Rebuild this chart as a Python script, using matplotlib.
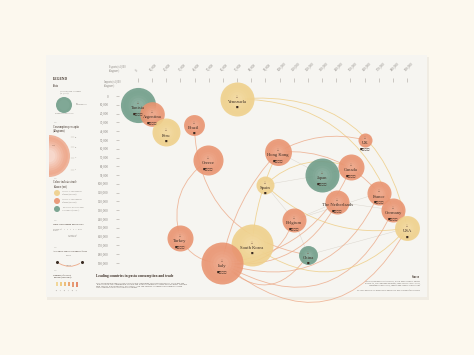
import numpy as np
import matplotlib
matplotlib.use('Agg')
import matplotlib.pyplot as plt
from matplotlib.patches import Rectangle, FancyArrowPatch, Wedge, Circle
from matplotlib.colors import to_rgb

# --- data -------------------------------------------------------------
countries = ['Tunisia', 'Argentina', 'Peru', 'Brazil', 'Venezuela', 'Greece',
             'Hong Kong', 'Spain', 'UK', 'Japan', 'Canada', 'The Netherlands',
             'France', 'Germany', 'USA', 'Belgium', 'China', 'Turkey',
             'South Korea', 'Italy']
exports = [0, 9900, 19800, 39600, 70000, 49500, 98900, 89800, 160400, 130000,
           150500, 140600, 170300, 180200, 190100, 110200, 120100, 29700,
           80600, 59400]
imports = [10200, 20500, 41000, 33000, 3400, 72800, 63700, 101000, 50000,
           89900, 80800, 120600, 110400, 129700, 150200, 141000, 180900,
           161500, 169500, 190000]
consumption = [17.5, 8.6, 11.1, 6.2, 16.4, 12.8, 10.3, 4.6, 2.8, 16.4, 9.6,
               8.2, 8.2, 8.2, 8.8, 8.2, 5.1, 9.6, 25.0, 25.0]
balance = ['producer', 'importer', 'exporter', 'importer', 'exporter',
           'importer', 'importer', 'exporter', 'importer', 'producer',
           'importer', 'importer', 'importer', 'importer', 'exporter',
           'importer', 'producer', 'importer', 'exporter', 'importer']
partners = [4, 4, 1, 1, 1, 4, 4, 1, 4, 4, 4, 4, 4, 4, 1, 4, 1, 4, 1, 4]

export_ticks = [0, 10000, 20000, 30000, 40000, 50000, 60000, 70000, 80000,
                90000, 100000, 110000, 120000, 130000, 140000, 150000,
                160000, 170000, 180000, 190000]
import_ticks = [0, 10000, 20000, 30000, 40000, 50000, 60000, 70000, 80000,
                90000, 100000, 110000, 120000, 130000, 140000, 150000,
                160000, 170000, 180000, 190000]

flows = [('Italy', 'USA', 0.6), ('Italy', 'Germany', 0.55),
         ('Italy', 'France', 0.45), ('Italy', 'China', 0.6),
         ('Italy', 'Belgium', 0.4), ('Italy', 'Canada', 0.3),
         ('Italy', 'Hong Kong', -0.15), ('Italy', 'The Netherlands', 0.35),
         ('Turkey', 'Italy', 0.3), ('South Korea', 'Hong Kong', -0.1),
         ('South Korea', 'USA', 0.45),
         ('Venezuela', 'USA', -0.45), ('Venezuela', 'Germany', -0.35),
         ('Spain', 'Canada', -0.3), ('Spain', 'USA', 0.25),
         ('Hong Kong', 'UK', -0.2), ('Hong Kong', 'France', -0.25),
         ('Greece', 'Turkey', 0.35), ('Brazil', 'China', 0.4)]
links = [('Japan', 'The Netherlands'), ('Belgium', 'China'),
         ('Spain', 'Belgium'), ('Belgium', 'France'),
         ('The Netherlands', 'Germany'), ('Japan', 'Canada'),
         ('Hong Kong', 'Japan'), ('Belgium', 'The Netherlands'),
         ('China', 'USA'), ('Spain', 'Japan')]

palette = {'exporter': '#efd08a', 'importer': '#e9936f', 'producer': '#6f9c88'}
flow_colors = {'exporter': '#eecb80', 'importer': '#eca886', 'producer': '#c4beb2'}

serif = ['Liberation Serif', 'DejaVu Serif']
ink = '#3b2d24'
grey = '#8a8580'


def lighten(c, f):
    r, g, b = to_rgb(c)
    return (r + (1 - r) * f, g + (1 - g) * f, b + (1 - b) * f)


fig = plt.figure(figsize=(4.74, 3.55), dpi=100, facecolor='#fcf8ee')

# background canvas in pixel units
bg = fig.add_axes([0, 0, 1, 1])
bg.set_xlim(0, 474)
bg.set_ylim(355, 0)
bg.axis('off')
bg.add_patch(Rectangle((47, 57), 382, 243, fc='#ece8df', ec='none', alpha=0.7))
bg.add_patch(Rectangle((46, 55), 381, 242, fc='#f6f5f1', ec='none'))

# --- main chart ---------------------------------------------------------
ax = fig.add_axes([138 / 474, 1 - 263 / 355, 269 / 474, 167 / 355])
ax.set_xlim(0, 190000)
ax.set_ylim(190000, 0)
ax.patch.set_alpha(0)
for s in ax.spines.values():
    s.set_color('none')
ax.spines['top'].set_position(('outward', 10))
ax.spines['left'].set_position(('outward', 14))
ax.xaxis.tick_top()
ax.set_xticks(export_ticks)
ax.set_xticklabels([f'{v:,}' for v in export_ticks], rotation=45, ha='left',
                   va='bottom', rotation_mode='anchor', fontsize=2.3,
                   color=grey, family=serif)
ax.set_yticks(import_ticks)
ax.set_yticklabels([f'{v:,}' for v in import_ticks], fontsize=2.3,
                   color=grey, family=serif)
ax.tick_params(axis='x', length=3, width=0.4, color='#a9a49e', pad=4)
ax.tick_params(axis='y', length=2.2, width=0.4, color='#a9a49e', pad=5)

pos = {c: (x, y) for c, x, y in zip(countries, exports, imports)}
grp = dict(zip(countries, balance))

# thin grey network lines
for a, b in links:
    ax.plot([pos[a][0], pos[b][0]], [pos[a][1], pos[b][1]], color='#dcd7cf',
            lw=0.35, zorder=1, clip_on=False)

# trade arcs
for a, b, rad in flows:
    ax.add_patch(FancyArrowPatch(pos[a], pos[b], arrowstyle='-',
                                 connectionstyle=f'arc3,rad={rad}',
                                 color=flow_colors[grp[a]], lw=0.6, alpha=0.8,
                                 zorder=2, clip_on=False, shrinkA=0, shrinkB=0))

# bubbles with soft radial shading
radius_px = 4.2 * np.sqrt(np.array(consumption))
for i, c in enumerate(countries):
    base = palette[balance[i]]
    d_pt = 2 * radius_px[i] * 0.72
    ax.scatter(exports[i], imports[i], s=d_pt ** 2, color=base, alpha=0.88,
               lw=0, zorder=3, clip_on=False)
    for k in range(1, 6):
        f = 1 - 0.14 * k
        ax.scatter(exports[i], imports[i], s=(d_pt * f) ** 2,
                   color=lighten(base, 0.06 * k), alpha=0.35, lw=0, zorder=3,
                   clip_on=False)
    ax.annotate('\u25b3', (exports[i], imports[i]), xytext=(0, 2.5),
                textcoords='offset points', ha='center', va='center',
                fontsize=1.8, color='#7a5a48', family='DejaVu Sans', zorder=4)
    ax.annotate(c, (exports[i], imports[i]), xytext=(0, -2.5),
                textcoords='offset points', ha='center', va='center',
                fontsize=3.3, color=ink, family=serif, zorder=4)
    marks = '\u25a0' + ('\u25a1' * 3 if partners[i] > 1 else '')
    ax.annotate(marks, (exports[i], imports[i]), xytext=(0, -6),
                textcoords='offset points', ha='center', va='center',
                fontsize=2.0, color='#3a2a22', family='DejaVu Sans', zorder=4)

# --- header of axes -----------------------------------------------------
bg.text(109, 69, 'Exports (x1,000\nkilograms)', fontsize=1.8, color=grey,
        family=serif, va='center', linespacing=1.1)
bg.text(104, 84, 'Imports (x1,000\nkilograms)', fontsize=1.8, color=grey,
        family=serif, va='center', linespacing=1.1)

# --- legend column --------------------------------------------------------
def ltxt(x, y, s, size=1.9, weight='normal', color=ink, ha='left'):
    bg.text(x, y, s, fontsize=size, color=color, family=serif, va='center',
            ha=ha, fontweight=weight, linespacing=1.1)


ltxt(53, 79, 'LEGEND', 2.6, 'bold')
ltxt(53, 86, 'Pasta', 2.0)
ltxt(60, 93, 'Consumption in tonnes\n(x 1,000)', 1.6, color=grey)
bg.add_patch(Circle((64, 105), 8, fc=palette['producer'], ec='none', alpha=0.9))
bg.add_patch(Circle((64, 105), 5.5, fc=lighten(palette['producer'], 0.15),
                    ec='none', alpha=0.5))
ltxt(76, 104, 'Net\nconsumption', 1.5, color=grey)
ltxt(64, 114, 'Production and trade', 1.5, color=grey, ha='center')
ltxt(53, 122, '\u2014', 1.8, color=grey)
ltxt(53, 129, 'Consumption per capita\n(kilograms)', 1.9)
base = '#ec9f80'
for k in range(8):
    bg.add_patch(Wedge((49, 156), 21 * (1 - 0.1 * k), -90, 90,
                       fc=lighten(base, 0.09 * k), ec='none', alpha=0.75))
for yy, lab in [(137, '35'), (147, '25'), (158, '15'), (170, '5')]:
    bg.plot([71, 74], [yy, yy], color='#b8b2aa', lw=0.3)
    ltxt(75, yy, lab, 1.6, color=grey)
ltxt(52, 146, 'Italy', 1.5, color='#7a5a48')
ltxt(53, 178, '\u2014', 1.8, color=grey)
ltxt(53, 184, 'Colour indicates trade\nbalance (net)', 1.9)
for yy, key, lab in [(193, 'exporter', 'Country is a net exporter\nof pasta (per year)'),
                     (201, 'importer', 'Country is a net importer\nof pasta (per year)'),
                     (209, 'producer', 'The country produces what\nit consumes (balance)')]:
    bg.add_patch(Circle((57, yy), 3, fc=palette[key], ec='none', alpha=0.9))
    ltxt(62, yy, lab, 1.45, color=grey)
ltxt(53, 220, '\u2014', 1.8, color=grey)
ltxt(53, 224, 'Lines show trading partnerships', 1.7)
ltxt(53, 230, 'Number of\npartners', 1.4, color=grey)
ltxt(64, 230, '1    2    3    4  \u2014  more', 1.4, color=grey)
ltxt(68, 236, 'Strength of\nrelationship', 1.4, color=grey)
ltxt(53, 247, '\u2014', 1.8, color=grey)
ltxt(53, 251, 'Arcs show export and import flows', 1.7)
bg.add_patch(FancyArrowPatch((57, 262), (82, 262), arrowstyle='-',
                             connectionstyle='arc3,rad=0.35',
                             color=flow_colors['importer'], lw=0.6))
bg.plot([57, 82], [262, 262], 'o', ms=1.2, color=ink)
ltxt(69, 255, 'Exports', 1.4, color=grey, ha='center')
ltxt(69, 265, 'Imports', 1.4, color=grey, ha='center')
ltxt(53, 270, '\u2014', 1.8, color=grey)
ltxt(53, 276, 'Number of trading\npartners (countries)', 1.7)
bar_cols = ['#f1d79a', '#efcc86', '#edbd7b', '#eaa977', '#e79a72', '#e48c6d']
for j, bc in enumerate(bar_cols):
    bg.add_patch(Rectangle((56 + j * 4, 282), 1.6, 5 - 0.3 * (5 - j), fc=bc,
                           ec='none'))
    bg.text(56.8 + j * 4, 290, str(j + 1) + '0', fontsize=1.3, color=grey,
            family=serif, rotation=45, ha='center', va='center')

# --- title and notes ------------------------------------------------------
bg.text(96, 276, 'Leading countries in pasta consumption and trade',
        fontsize=2.6, fontweight='bold', color=ink, family=serif, va='center')
bg.text(96, 285.5,
        'This visualization displays the leading pasta consuming countries worldwide. Their size and\n'
        'position show the consumption of pasta and which countries they trade with the most. Whether\n'
        'each country is a net importer or exporter, you can observe the main relationships between\n'
        'the producers and the consuming countries.',
        fontsize=1.7, color='#6a625c', family=serif, va='center', linespacing=1.15)
bg.text(420, 277, 'Source', fontsize=1.9, fontweight='bold', color=ink,
        family=serif, ha='right', va='center')
bg.text(420, 283.5,
        'International Pasta Organisation, World Pasta Industry Survey\n'
        'FAOSTAT, UN Comtrade Database, trade statistics 2017-2019,\n'
        'consumption per capita, imports and exports in kilograms',
        fontsize=1.5, color='#6a625c', family=serif, ha='right', va='center',
        linespacing=1.15)
bg.text(420, 290.5,
        'The trade partners are shown only where data was available for all years',
        fontsize=1.5, color='#6a625c', family=serif, ha='right', va='center')

fig.savefig('out.png', dpi=100, facecolor=fig.get_facecolor())
